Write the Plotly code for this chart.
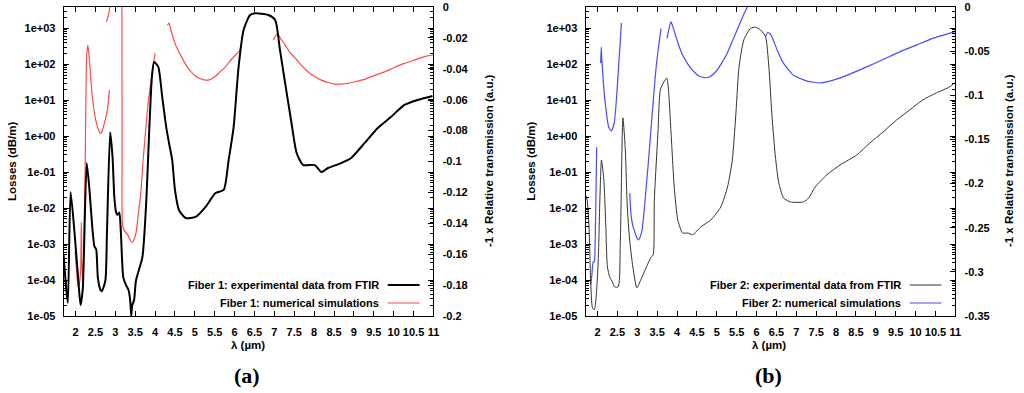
import plotly.graph_objects as go

# ---------------- data ----------------
f1_exp_wl = [1.70,1.767,1.807,1.875,1.975,2.075,2.125,2.18,2.28,2.35,2.42,2.475,2.52,2.56,2.625,2.66,2.75,2.79,2.87,2.93,2.975,3.02,3.05,3.10,3.14,3.20,3.27,3.33,3.375,3.40,3.425,3.47,3.52,3.68,3.78,3.85,3.92,3.975,4.08,4.18,4.28,4.35,4.43,4.50,4.60,4.77,5.02,5.27,5.52,5.725,5.85,5.975,6.10,6.225,6.39,6.52,6.85,7.02,7.14,7.27,7.43,7.56,7.725,8.02,8.18,8.35,8.68,8.93,9.27,9.60,9.93,10.27,10.60,10.975]
f1_exp_tr = [-0.1605,-0.183,-0.1916,-0.1197,-0.1463,-0.1786,-0.1929,-0.183,-0.101,-0.1184,-0.1424,-0.155,-0.157,-0.175,-0.183,-0.184,-0.177,-0.146,-0.081,-0.097,-0.123,-0.133,-0.1346,-0.133,-0.146,-0.175,-0.180,-0.183,-0.190,-0.200,-0.193,-0.190,-0.177,-0.162,-0.125,-0.0816,-0.0453,-0.0356,-0.0388,-0.0583,-0.0777,-0.088,-0.099,-0.1184,-0.1314,-0.1366,-0.1359,-0.1294,-0.1204,-0.1184,-0.099,-0.0777,-0.0388,-0.0149,-0.0052,-0.0041,-0.0052,-0.0084,-0.0278,-0.0492,-0.0751,-0.0945,-0.1023,-0.1023,-0.1068,-0.1042,-0.101,-0.0977,-0.088,-0.0783,-0.0712,-0.0634,-0.0602,-0.0576]

f1_sim_wl = [1.99,2.025,2.06,2.10,2.13,2.145,2.16,2.19,2.21,2.24,2.26,2.28,2.31,2.35,2.39,2.43,2.475,2.52,2.56,2.60,2.64,2.68,2.725,2.77,2.81,2.85, None,
             2.78,2.825,2.86,2.90, None,
             3.165,3.17,3.18,3.225,3.31,3.375,3.43,3.475,3.52,3.575,3.64,3.70,3.77,3.825,3.89,3.95,4.00, None,
             4.31,4.35,4.40,4.475,4.55,4.64,4.725,4.81,4.90,5.02,5.125,5.27,5.375,5.52,5.625,5.77,5.875,6.02,6.10,6.175, None,
             6.975,7.025,7.08,7.15,7.27,7.375,7.52,7.675,7.85,8.00,8.18,8.35,8.52,8.675,8.85,9.05,9.27,9.50,9.77,10.0,10.27,10.475,10.68,10.85,11.0]
f1_sim_loss = [6.0e-4,1.9e-4,6.4e-5,8.3e-5,2.2e-4,4.1e-3,2.6e-4,1.0e-4,1.3e-3,1.1e-1,1.0e1,1.8e2,3.4e2,1.3e2,3.0e1,1.0e1,4.4,2.4,1.7,1.3,1.2,1.5,2.3,3.6,6.4,1.9e1, None,
               1.5e3,2.3e3,3.8e3,7.3e3, None,
               1.1e4,0.41,3.4e-3,2.4e-3,1.8e-3,1.3e-3,1.1e-3,1.4e-3,2.0e-3,6.4e-3,2.6e-2,0.22,1.8,8.3,3.0e1,8.8e1,2.0e2, None,
               1.2e3,1.4e3,8.8e2,4.6e2,2.8e2,1.8e2,1.2e2,8.4e1,6.2e1,4.6e1,4.0e1,3.6e1,3.7e1,4.6e1,6.0e1,8.4e1,1.2e2,1.8e2,2.2e2,3.0e2, None,
               4.6e2,6.0e2,7.1e2,5.3e2,3.4e2,2.2e2,1.5e2,9.4e1,6.1e1,4.6e1,3.6e1,3.1e1,2.8e1,2.8e1,2.9e1,3.3e1,3.8e1,4.8e1,6.1e1,8.0e1,1.05e2,1.25e2,1.5e2,1.7e2,1.8e2]

f2_exp_wl = [1.70,1.74,1.79,1.83,1.875,1.92,1.96,2.02,2.06,2.10,2.16,2.21,2.25,2.31,2.375,2.43,2.52,2.575,2.64,2.70,2.75,2.81,2.89,2.99,3.09,3.22,3.34,3.40,3.43,3.52,3.58,3.67,3.74,3.78,3.85,3.93,4.02,4.14,4.27,4.39,4.60,4.85,5.10,5.27,5.39,5.475,5.56,5.68,5.85,5.975,6.10,6.225,6.31,6.39,6.475,6.56,6.68,6.85,7.18,7.31,7.475,7.77,8.10,8.52,8.85,9.18,9.52,9.85,10.18,10.52,10.85,10.975]
f2_exp_tr = [-0.213,-0.2186,-0.2525,-0.3126,-0.341,-0.343,-0.332,-0.2865,-0.2186,-0.1733,-0.196,-0.249,-0.2945,-0.306,-0.3114,-0.317,-0.317,-0.264,-0.1257,-0.162,-0.2265,-0.264,-0.2945,-0.318,-0.309,-0.2956,-0.284,-0.2808,-0.2186,-0.1427,-0.094,-0.0849,-0.0804,-0.0906,-0.1427,-0.2039,-0.2412,-0.256,-0.256,-0.258,-0.249,-0.2412,-0.2265,-0.2039,-0.1733,-0.1246,-0.068,-0.0374,-0.0241,-0.023,-0.026,-0.0336,-0.068,-0.1246,-0.170,-0.1993,-0.2163,-0.2208,-0.2208,-0.2163,-0.2039,-0.190,-0.179,-0.1676,-0.154,-0.1416,-0.128,-0.1167,-0.1053,-0.0974,-0.0906,-0.086]

f2_sim_wl = [1.83,1.86,1.89,1.92,1.94,1.96,1.98, None,
             2.08,2.095,2.11,2.14,2.17,2.225,2.28,2.35,2.42,2.475,2.53,2.575,2.60, None,
             2.81,2.85,2.89,2.93,2.99,3.03,3.075,3.12,3.175,3.225,3.29,3.35,3.41,3.475,3.54,3.60, None,
             3.75,3.79,3.825,3.85,3.90,3.975,4.05,4.14,4.24,4.35,4.45,4.56,4.725,4.825,4.93,5.04,5.14,5.25,5.35,5.45,5.56,5.66,5.77,5.875, None,
             6.225,6.28,6.34,6.39,6.52,6.68,6.93,7.27,7.60,7.93,8.35,8.77,9.18,9.60,10.02,10.43,10.975]
f2_sim_loss = [7.3e-5,1.4e-4,3.2e-4,3.2e-4,9.4e-4,1.7e-2,0.49, None,
               1.07e2,3.0e2,1.3e2,4.1e1,1.6e1,4.4,1.8,1.4,2.3,1.0e1,8.3e1,4.6e2,1.4e3, None,
               2.6e-2,5.6e-3,3.2e-3,2.3e-3,1.5e-3,1.3e-3,1.6e-3,2.4e-3,8.8e-3,3.8e-2,0.26,1.8,1.2e1,8.3e1,3.4e2,9.8e2, None,
               5.2e2,8.8e2,1.3e3,1.5e3,1.07e3,5.7e2,3.2e2,1.8e2,1.14e2,7.6e1,5.8e1,4.6e1,4.2e1,4.5e1,5.5e1,7.7e1,1.16e2,1.9e2,3.4e2,6.2e2,1.2e3,2.2e3,3.9e3,7.3e3, None,
               5.7e2,7.6e2,7.0e2,5.7e2,2.45e2,1.05e2,4.9e1,3.4e1,3.0e1,3.6e1,5.3e1,8.4e1,1.35e2,2.2e2,3.4e2,5.2e2,7.9e2]

x_tick_vals = [2,2.5,3,3.5,4,4.5,5,5.5,6,6.5,7,7.5,8,8.5,9,9.5,10,10.5,11]
x_tick_text = ["2","2.5","3","3.5","4","4.5","5","5.5","6","6.5","7","7.5","8","8.5","9","9.5","10","10.5","11"]
log_tick_vals = [1e-5,1e-4,1e-3,1e-2,1e-1,1e0,1e1,1e2,1e3]
log_tick_text = ["1e-05","1e-04","1e-03","1e-02","1e-01","1e+00","1e+01","1e+02","1e+03"]
tr1_tick_vals = [0,-0.02,-0.04,-0.06,-0.08,-0.1,-0.12,-0.14,-0.16,-0.18,-0.2]
tr1_tick_text = ["0","-0.02","-0.04","-0.06","-0.08","-0.1","-0.12","-0.14","-0.16","-0.18","-0.2"]
tr2_tick_vals = [0,-0.05,-0.1,-0.15,-0.2,-0.25,-0.3,-0.35]
tr2_tick_text = ["0","-0.05","-0.1","-0.15","-0.2","-0.25","-0.3","-0.35"]

legend_labels = ["Fiber 1: experimental data from FTIR", "Fiber 1: numerical simulations",
                 "Fiber 2: experimental data from FTIR", "Fiber 2: numerical simulations"]

# ---------------- styles / geometry ----------------
W, H = 1024, 393
PT, PB = 7, 316                 # plot area top / bottom (px)
L1, R1 = 64, 436                # left panel
L2, R2 = 589, 961               # right panel
RED = "#ff4a4a"
BLUE = "#4a4aff"
FONT = "Liberation Sans"
tickfont = dict(family=FONT, size=11, color="black", weight="bold")

def px(x):
    return x / W

def py(y):
    return (PB - y) / (PB - PT)

minor_log = [m * 10.0 ** e for e in range(-5, 4) for m in range(2, 10)]

fig = go.Figure()

fig.add_trace(go.Scatter(x=f1_sim_wl, y=f1_sim_loss, mode="lines", xaxis="x", yaxis="y",
                         line=dict(color=RED, width=1.2, shape="spline", smoothing=0.5),
                         connectgaps=False, name=legend_labels[1]))
fig.add_trace(go.Scatter(x=f1_exp_wl, y=f1_exp_tr, mode="lines", xaxis="x", yaxis="y2",
                         line=dict(color="black", width=2, shape="spline", smoothing=0.6),
                         name=legend_labels[0]))
fig.add_trace(go.Scatter(x=f2_sim_wl, y=f2_sim_loss, mode="lines", xaxis="x2", yaxis="y3",
                         line=dict(color=BLUE, width=1.2, shape="spline", smoothing=0.5),
                         connectgaps=False, name=legend_labels[3]))
fig.add_trace(go.Scatter(x=f2_exp_wl, y=f2_exp_tr, mode="lines", xaxis="x2", yaxis="y4",
                         line=dict(color="#333333", width=1, shape="spline", smoothing=0.6),
                         name=legend_labels[2]))

xcommon = dict(range=[1.7, 11], tickmode="array", tickvals=x_tick_vals, ticktext=x_tick_text,
               ticks="inside", ticklen=5, tickcolor="black", showline=True, linecolor="black",
               linewidth=1, mirror="ticks", showgrid=False, zeroline=False, tickfont=tickfont,
               ticklabelstandoff=6)
logcommon = dict(type="log", range=[-5, 3.59], tickmode="array", tickvals=log_tick_vals,
                 ticktext=log_tick_text, ticks="inside", ticklen=5, tickcolor="black",
                 showline=True, linecolor="black", linewidth=1, mirror="ticks",
                 showgrid=False, zeroline=False, tickfont=tickfont, ticklabelstandoff=5,
                 minor=dict(tickmode="array", tickvals=minor_log, ticks="inside", ticklen=3,
                            tickcolor="black", showgrid=False))
lincommon = dict(tickmode="array", ticks="inside", ticklen=5, tickcolor="black",
                 showline=True, linecolor="black", linewidth=1, side="right",
                 showgrid=False, zeroline=False, tickfont=tickfont, ticklabelstandoff=6)

fig.update_layout(
    width=W, height=H,
    margin=dict(l=0, r=0, t=PT, b=H - PB, pad=0),
    paper_bgcolor="white", plot_bgcolor="white",
    showlegend=False,
    xaxis=dict(domain=[px(L1), px(R1)], anchor="y", **xcommon),
    xaxis2=dict(domain=[px(L2), px(R2)], anchor="y3", **xcommon),
    yaxis=dict(domain=[0, 1], anchor="x", **logcommon),
    yaxis2=dict(overlaying="y", anchor="x", range=[-0.2, 0], tickvals=tr1_tick_vals,
                ticktext=tr1_tick_text, **lincommon),
    yaxis3=dict(domain=[0, 1], anchor="x2", **logcommon),
    yaxis4=dict(overlaying="y3", anchor="x2", range=[-0.35, 0], tickvals=tr2_tick_vals,
                ticktext=tr2_tick_text, **lincommon),
)

annotations = []
shapes = []

def title_ann(text, x, y, angle=0, size=11.5, family=FONT, weight="bold"):
    annotations.append(dict(text=text, x=px(x), y=py(y), xref="paper", yref="paper",
                            showarrow=False, textangle=angle, xanchor="center", yanchor="middle",
                            font=dict(family=family, size=size, color="black", weight=weight)))

# axis titles
title_ann("Losses (dB/m)", 12, 161, -90)
title_ann("Losses (dB/m)", 534, 161, -90)
title_ann("-1 x Relative transmission (a.u.)", 492, 161, -90)
title_ann("-1 x Relative transmission (a.u.)", 1015, 161, -90)
title_ann("λ (µm)", 249, 345)
title_ann("λ (µm)", 774, 345)
title_ann("(a)", 248, 375, size=22, family="Liberation Serif")
title_ann("(b)", 773, 375, size=22, family="Liberation Serif")

# gnuplot-style key: right-aligned text, sample line to the right
def key_entry(text, x_text_end, y, x0, x1, color, width):
    annotations.append(dict(text=text, x=px(x_text_end), y=py(y), xref="paper", yref="paper",
                            showarrow=False, xanchor="right", yanchor="middle",
                            font=dict(family=FONT, size=11, color="black", weight="bold")))
    shapes.append(dict(type="line", xref="paper", yref="paper", x0=px(x0), x1=px(x1),
                       y0=py(y), y1=py(y), line=dict(color=color, width=width)))

key_entry(legend_labels[0], 383, 285, 390, 422, "black", 2)
key_entry(legend_labels[1], 383, 303, 390, 422, RED, 1.2)
key_entry(legend_labels[2], 908, 285, 915, 947, "#333333", 1)
key_entry(legend_labels[3], 908, 303, 915, 947, BLUE, 1.2)

fig.update_layout(annotations=annotations, shapes=shapes)

fig.write_html("out.html", config={"displayModeBar": False},
               post_script="document.body.style.margin='0';")
